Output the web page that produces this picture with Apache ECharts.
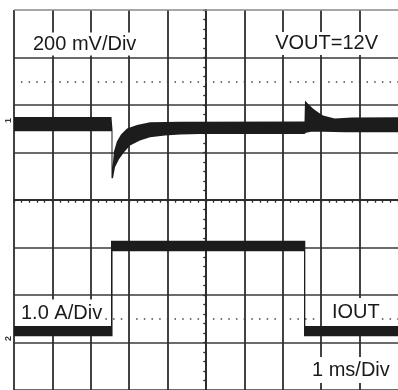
<!DOCTYPE html>
<html>
<head>
<meta charset="utf-8">
<script src="https://cdn.jsdelivr.net/npm/echarts@6/dist/echarts.min.js"></script>
<style>
html, body { margin: 0; padding: 0; background: #fff; }
#scope { width: 398px; height: 390px; }
</style>
</head>
<body>
<div id="scope"></div>
<script>
// time in ms, 0 = screen centre (1 ms/div)
// VOUT: mV from the 12 V marker (200 mV/div), top and bottom edge of the noisy trace
var voutTopT  = [-5, -2.461, -2.435, -2.435, -2.396, -2.318, -2.214, -2.057, -1.797, -1.458, -0.677, 2.565, 2.578, 2.656, 2.786, 2.917, 3.047, 3.352, 3.8, 5];
var voutTopMv = [12, 12, -40, -199, -132, -90, -61, -36, -21, -10, -8, -6, 82, 68, 48, 33, 19, 6, 10, 11];
var voutBotT  = [-5, -2.461, -2.461, -2.422, -2.370, -2.266, -2.135, -1.979, -1.719, -1.458, -1.068, -0.677, -0.156, 2.565, 2.604, 2.734, 3.047, 3.62, 5];
var voutBotMv = [-48, -48, -245, -245, -199, -165, -136, -107, -86, -73, -65, -61, -59, -59, -54, -50, -50, -52, -52];

// IOUT: A (1 A/div)
var ioutTopT = [-5, -2.474, -2.474, 2.586, 2.586, 5];
var ioutTopA = [0.23, 0.23, 2.02, 2.02, 0.23, 0.23];
var ioutBotT = [-5, -2.434, -2.434, 2.552, 2.552, 5];
var ioutBotA = [0.01, 0.01, 1.80, 1.80, 0.01, 0.01];

// dotted graticule rows (divisions from centre)
var dotRows = [2.5, -2.5];

var chartDom = document.getElementById('scope');
var scope = echarts.init(chartDom);

var gridColor = '#2e2e2e';
var traceColor = '#1c1c1c';
var font = '"Liberation Sans", Arial, sans-serif';

// filled band between top and bottom edge of a trace
function band(topT, topV, botT, botV) {
	return function (params, api) {
		var pts = [];
		for (var i = 0; i < topT.length; i++) pts.push(api.coord([topT[i], topV[i]]));
		for (var j = botT.length - 1; j >= 0; j--) pts.push(api.coord([botT[j], botV[j]]));
		return { type: 'polygon', shape: { points: pts }, style: { fill: traceColor } };
	};
}

function centreAxis(inside) {
	return {
		show: true, onZero: true, onZeroAxisIndex: 0,
		lineStyle: { color: gridColor, width: 1.8 }
	};
}

var option = {
	animation: false,
	backgroundColor: '#fff',
	grid: { left: 14, top: 10, width: 384, height: 382, containLabel: false },
	xAxis: [
		{
			type: 'value', min: -5, max: 5, interval: 1,
			axisLine: centreAxis(),
			axisTick: { show: true, length: 2.5, lineStyle: { color: gridColor, width: 1.2 } },
			minorTick: { show: true, splitNumber: 5, length: 2.5, lineStyle: { color: gridColor, width: 1.2 } },
			axisLabel: { show: false },
			splitLine: { show: true, showMaxLine: false, lineStyle: { color: gridColor, width: 1.8 } }
		},
		{
			type: 'value', min: -5, max: 5, interval: 1,
			axisLine: centreAxis(),
			axisTick: { show: true, inside: true, length: 2.5, lineStyle: { color: gridColor, width: 1.2 } },
			minorTick: { show: true, splitNumber: 5, length: 2.5, lineStyle: { color: gridColor, width: 1.2 } },
			axisLabel: { show: false },
			splitLine: { show: false }
		}
	],
	yAxis: [
		{
			type: 'value', min: -4, max: 4, interval: 1,
			axisLine: centreAxis(),
			axisTick: { show: true, length: 2.5, lineStyle: { color: gridColor, width: 1.2 } },
			minorTick: { show: true, splitNumber: 5, length: 2.5, lineStyle: { color: gridColor, width: 1.2 } },
			axisLabel: { show: false },
			splitLine: { show: true, showMaxLine: false, lineStyle: { color: '#3a3a3a', width: 1.6 } }
		},
		// VOUT scale: 200 mV/div, 12 V marker position
		{ type: 'value', min: -1137, max: 463, show: false },
		// IOUT scale: 1 A/div
		{ type: 'value', min: -1.12, max: 6.88, show: false },
		{
			type: 'value', min: -4, max: 4, interval: 1,
			axisLine: centreAxis(),
			axisTick: { show: true, inside: true, length: 2.5, lineStyle: { color: gridColor, width: 1.2 } },
			minorTick: { show: true, splitNumber: 5, length: 2.5, lineStyle: { color: gridColor, width: 1.2 } },
			axisLabel: { show: false },
			splitLine: { show: false }
		}
	],
	graphic: [
		{ type: 'text', z: 1, style: { text: '200 mV/Div', x: 29, y: 44, align: 'left', verticalAlign: 'middle', font: '20px ' + font, fill: '#1a1a1a', backgroundColor: '#fff', padding: [2, 3, 1, 4] } },
		{ type: 'text', z: 1, style: { text: 'VOUT=12V', x: 382, y: 43.5, align: 'right', verticalAlign: 'middle', font: '20px ' + font, fill: '#1a1a1a', backgroundColor: '#fff', padding: [2, 4, 1, 5] } },
		{ type: 'text', z: 1, style: { text: '1.0 A/Div', x: 17.5, y: 313, align: 'left', verticalAlign: 'middle', font: '20px ' + font, fill: '#1a1a1a', backgroundColor: '#fff', padding: [4, 1.5, 3, 3.5] } },
		{ type: 'text', z: 1, style: { text: 'IOUT', x: 327.5, y: 312, align: 'left', verticalAlign: 'middle', font: '20px ' + font, fill: '#1a1a1a', backgroundColor: '#fff', padding: [4, 0, 4, 4.5] } },
		{ type: 'text', z: 1, style: { text: '1 ms/Div', x: 308.5, y: 370, align: 'left', verticalAlign: 'middle', font: '20px ' + font, fill: '#1a1a1a', backgroundColor: '#fff', padding: [3, 4, 3, 3.5] } },
		{ type: 'text', z: 1, x: 9, y: 120.5, rotation: Math.PI / 2, style: { text: '1', align: 'center', verticalAlign: 'middle', font: 'bold 9px ' + font, fill: '#333' } },
		{ type: 'text', z: 1, x: 9, y: 338.5, rotation: Math.PI / 2, style: { text: '2', align: 'center', verticalAlign: 'middle', font: 'bold 9px ' + font, fill: '#333' } }
	],
	series: [
		{
			// dotted rows and the lighter top edge of the graticule
			type: 'line', xAxisIndex: 0, yAxisIndex: 0, data: [], silent: true,
			markLine: {
				z: 0.5, silent: true, symbol: 'none', label: { show: false },
				data: dotRows.map(function (v) {
					return { yAxis: v, lineStyle: { color: '#444', width: 1.5, type: [1.5, 6.18], dashOffset: 0.75 } };
				}).concat([{ yAxis: 4, lineStyle: { color: '#8a8a8a', width: 1.5, type: 'solid' } }])
			}
		},
		{
			name: 'VOUT', type: 'custom', xAxisIndex: 0, yAxisIndex: 1, z: 3,
			data: [[voutTopT[0], voutTopMv[0]]],
			renderItem: band(voutTopT, voutTopMv, voutBotT, voutBotMv)
		},
		{
			name: 'IOUT', type: 'custom', xAxisIndex: 0, yAxisIndex: 2, z: 3,
			data: [[ioutTopT[0], ioutTopA[0]]],
			renderItem: band(ioutTopT, ioutTopA, ioutBotT, ioutBotA)
		}
	]
};

scope.setOption(option);
</script>
</body>
</html>
